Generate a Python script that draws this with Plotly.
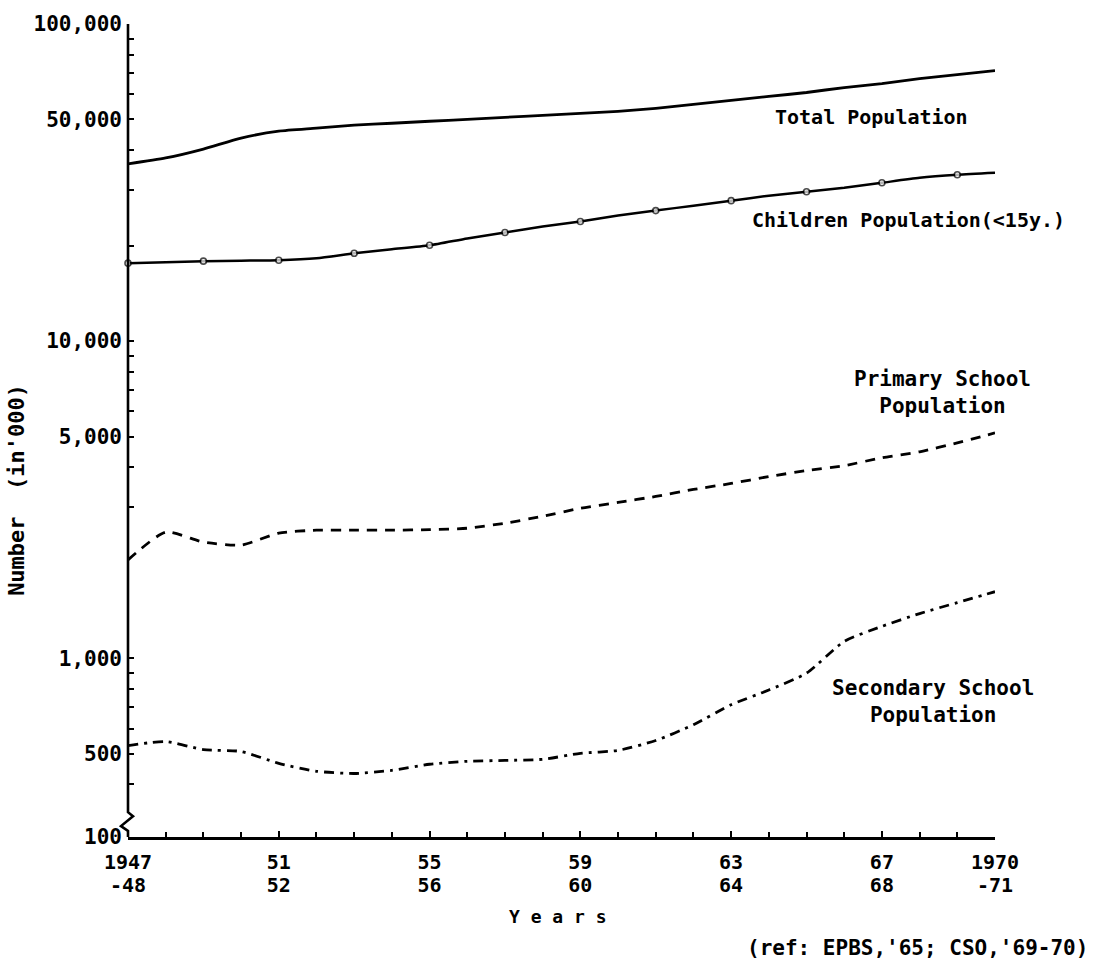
import math
import plotly.graph_objects as go

# School years 1947-48 ... 1970-71, indexed by the first calendar year
years = list(range(1947, 1971))

# Numbers in thousands
total_population = [36200, 37800, 40330, 43670, 45920, 46920, 47950, 48640,
                    49350, 50060, 50790, 51540, 52290, 53050, 54200, 55800,
                    57410, 59100, 60810, 63050, 64890, 67280, 69240, 71280]
children_population = [17610, 17740, 17870, 17930, 17990, 18250, 18920, 19480,
                       20050, 21080, 22010, 22990, 23840, 24890, 25800, 26740,
                       27730, 28740, 29580, 30450, 31570, 32730, 33450, 33930]
primary_school = [2041, 2498, 2324, 2274, 2480, 2534, 2534, 2534,
                  2543, 2570, 2665, 2803, 2969, 3100, 3237, 3405,
                  3556, 3740, 3904, 4048, 4287, 4477, 4777, 5134]
secondary_school = [530, 546, 515, 508, 466, 440, 433, 443,
                    463, 473, 476, 480, 501, 512, 550, 617,
                    713, 794, 897, 1130, 1260, 1383, 1497, 1621]

# Survey years on the children curve are marked every second year
children_marked = [y % 2 == 1 for y in years]

# Axis labelling: two rows under the year axis
x_tick_years = [1947, 1951, 1955, 1959, 1963, 1967, 1970]
x_tick_row1 = ["1947", "51", "55", "59", "63", "67", "1970"]
x_tick_row2 = ["-48", "52", "56", "60", "64", "68", "-71"]
y_axis_floor = 273          # value where the broken axis is cut off (labelled 100)
y_axis_top = 100000
y_tick_values = [y_axis_floor, 500, 1000, 5000, 10000, 50000, 100000]
y_tick_text = ["100", "500", "1,000", "5,000", "10,000", "50,000", "100,000"]
y_minor_values = [400, 600, 700, 800, 900,
                  3000, 4000, 6000, 7000, 8000, 9000,
                  20000, 30000, 40000, 60000, 70000, 80000, 90000]

FONT = "DejaVu Sans Mono"
INK = "black"

def font(size, weight="bold"):
    return dict(family=FONT, size=size, color=INK, weight=weight)

fig = go.Figure()

fig.add_trace(go.Scatter(
    x=years, y=total_population, mode="lines",
    line=dict(color=INK, width=2.8, shape="spline", smoothing=0.6),
))
fig.add_trace(go.Scatter(
    x=years, y=children_population, mode="lines+markers",
    line=dict(color=INK, width=2.5, shape="spline", smoothing=0.6),
    marker=dict(symbol="circle", color="white",
                size=[6 if m else 0 for m in children_marked],
                line=dict(color=INK, width=1.6)),
    cliponaxis=False,
))
fig.add_trace(go.Scatter(
    x=years, y=primary_school, mode="lines",
    line=dict(color=INK, width=2.8, dash="10px,8px", shape="spline", smoothing=0.6),
))
fig.add_trace(go.Scatter(
    x=years, y=secondary_school, mode="lines",
    line=dict(color=INK, width=2.8, dash="10px,6px,3px,6px", shape="spline", smoothing=0.6),
))

# Series labels
fig.add_annotation(x=1964.1, y=math.log10(50800), text="Total Population",
                   showarrow=False, xanchor="left", yanchor="middle", font=font(20))
fig.add_annotation(x=1963.5, y=math.log10(24180), text="Children Population(<15y.)",
                   showarrow=False, xanchor="left", yanchor="middle", font=font(20))
fig.add_annotation(x=1968.6, y=math.log10(6900), text="Primary School<br>Population",
                   showarrow=False, xanchor="center", yanchor="middle", align="center",
                   font=font(21))
fig.add_annotation(x=1968.35, y=math.log10(728), text="Secondary School<br>Population",
                   showarrow=False, xanchor="center", yanchor="middle", align="center",
                   font=font(21))

# Axis titles and source note
fig.add_annotation(xref="paper", yref="paper", x=-0.128, y=0.427, textangle=-90,
                   text="Number\u00a0\u00a0(in'000)", showarrow=False,
                   xanchor="center", yanchor="middle", font=font(22))
fig.add_annotation(xref="paper", yref="paper", x=0.496, y=-0.098,
                   text="Y e a r s", showarrow=False, xanchor="center", yanchor="middle",
                   font=font(18))
fig.add_annotation(xref="paper", yref="paper", x=1.11, y=-0.137,
                   text="(ref: EPBS,'65; CSO,'69-70)", showarrow=False,
                   xanchor="right", yanchor="middle", font=font(21))

# Vertical axis drawn with a break just above its foot
plot_w, plot_h = 867, 819
def px(dx):
    return dx / plot_w
def py(dy):
    return dy / plot_h
axis_path = (f"M 0,1 L 0,{py(25)} L {px(5)},{py(21)} L {px(-7)},{py(11)} "
             f"L 0,{py(6)} L 0,0")
fig.add_shape(type="path", xref="paper", yref="paper", path=axis_path,
              line=dict(color=INK, width=2.6))

fig.update_layout(
    width=1098, height=969,
    margin=dict(l=128, r=103, t=18, b=132),
    paper_bgcolor="white", plot_bgcolor="white",
    showlegend=False,
    font=font(20),
    xaxis=dict(
        range=[1947, 1970], showgrid=False, zeroline=False,
        showline=True, linecolor=INK, linewidth=2.6,
        tickmode="array", tickvals=x_tick_years, ticktext=x_tick_row1,
        ticks="inside", ticklen=6, tickwidth=2, tickcolor=INK,
        ticklabelstandoff=5,
        tickfont=font(20),
        minor=dict(dtick=1, tick0=1947, ticks="inside", ticklen=5,
                   tickwidth=2, tickcolor=INK),
    ),
    # second row of the school-year labels
    xaxis2=dict(
        overlaying="x", anchor="y", side="bottom", matches="x",
        range=[1947, 1970], showgrid=False, zeroline=False, showline=False,
        tickmode="array", tickvals=x_tick_years, ticktext=x_tick_row2,
        ticks="", ticklabelstandoff=34, tickfont=font(20),
    ),
    yaxis=dict(
        type="log",
        range=[math.log10(y_axis_floor), math.log10(y_axis_top)],
        showgrid=False, zeroline=False, showline=False,
        tickmode="array", tickvals=y_tick_values, ticktext=y_tick_text,
        ticks="inside", ticklen=6, tickwidth=2, tickcolor=INK,
        ticklabelstandoff=5,
        tickfont=font(21),
        minor=dict(tickmode="array", tickvals=y_minor_values, ticks="inside",
                   ticklen=6, tickwidth=2, tickcolor=INK),
    ),
)

# invisible trace that puts the second label row on screen
fig.add_trace(go.Scatter(x=[years[0]], y=[total_population[0]], xaxis="x2",
                         mode="markers", marker=dict(opacity=0), hoverinfo="skip"))

fig.write_html("out.html")
